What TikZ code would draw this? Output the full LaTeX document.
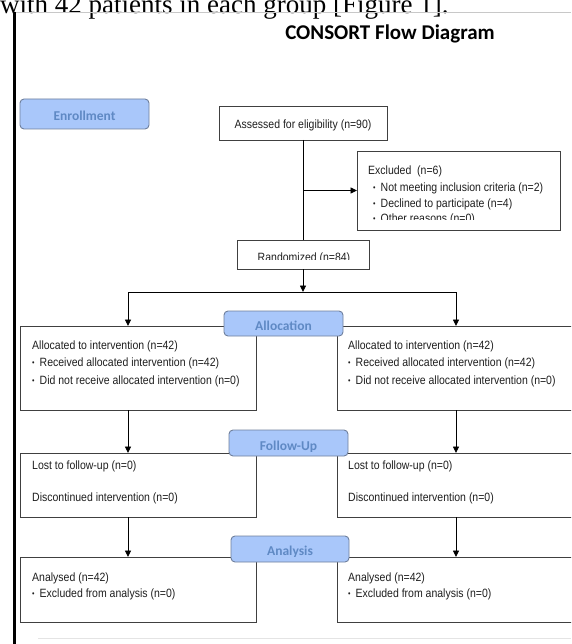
\documentclass[tikz,border=0pt]{standalone}
\usepackage{fontspec}
\setmainfont{Liberation Sans}
\newfontfamily\bodyf[FakeStretch=0.875]{Liberation Sans}
\newfontfamily\calib{Carlito}
\newfontfamily\timesf{Liberation Serif}
\usetikzlibrary{arrows.meta}
\definecolor{boxline}{HTML}{404040}
\definecolor{stagefill}{HTML}{A9C7FA}
\definecolor{stageline}{HTML}{6F7F9C}
\definecolor{stagetext}{HTML}{5F89C4}
\definecolor{rulegray}{HTML}{C8C8C8}
\definecolor{rulelight}{HTML}{E4E4E4}
\definecolor{txtcol}{HTML}{1E1E1E}
\newcommand\mybul{\makebox[7.5pt][l]{\fontsize{8}{9}\selectfont\raisebox{0.8pt}{•}}}
\begin{document}
\begin{tikzpicture}[x=1pt,y=-1pt,
 box/.style={draw=boxline, line width=0.9pt, anchor=north west, inner sep=0pt, outer sep=0pt},
 stage/.style={draw=stageline, fill=stagefill, line width=0.9pt, rounded corners=4pt, anchor=north west, inner sep=0pt, outer sep=0pt},
 stagetxt/.style={anchor=base, inner sep=0pt, text=stagetext, font=\calib\bfseries\fontsize{13.5}{15}\selectfont},
 txt/.style={anchor=base west, inner sep=0pt, text=txtcol, font=\bodyf\fontsize{12}{14}\selectfont},
 conn/.style={draw=black, line width=0.9pt},
 arr/.style={conn, -{Triangle[length=6.5pt,width=6pt]}},
]
\useasboundingbox (0,0) rectangle (571,644);
\clip (0,0) rectangle (571,644);

% page furniture
\node[anchor=base west, inner sep=0pt, font=\timesf\fontsize{27}{30}\selectfont] (topline) at (0,13.5) {with 42 patients in each group [Figure 1].};
\draw[rulegray, line width=0.8pt] (13,12) -- (571,12);
\draw[rulelight, line width=1pt] (38,638) -- (571,638);
\draw[black, line width=3pt] (14.5,12) -- (14.5,644);

\node[anchor=base, inner sep=0pt, font=\calib\bfseries\fontsize{21}{25}\selectfont] (title) at (390,40) {CONSORT Flow Diagram};

% boxes
\node[box, minimum width=168pt, minimum height=34pt] (assess) at (219,106) {};
\node[box, minimum width=203pt, minimum height=79pt] (excl) at (357,151) {};
\node[box, minimum width=132pt, minimum height=29pt] (rand) at (237,240) {};
\node[box, minimum width=236pt, minimum height=84pt] (allocL) at (20,326) {};
\node[box, minimum width=245pt, minimum height=84pt] (allocR) at (337,326) {};
\node[box, minimum width=236pt, minimum height=64pt] (fuL) at (20,453) {};
\node[box, minimum width=245pt, minimum height=64pt] (fuR) at (337,453) {};
\node[box, minimum width=236pt, minimum height=65pt] (anL) at (20,557) {};
\node[box, minimum width=245pt, minimum height=65pt] (anR) at (337,557) {};

% connectors
\draw[conn] (assess.south) -- (rand.north);
\coordinate (br) at (assess.south |- excl.west);
\draw[arr] (br) -- (excl.west);
\coordinate (split) at (303,292);
\coordinate (splitL) at (128,292);
\coordinate (splitR) at (456,292);
\draw[arr] (rand.south) -- (split);
\draw[conn] (splitL) -- (splitR);
\draw[arr] (splitL) -- (splitL |- allocL.north);
\draw[arr] (splitR) -- (splitR |- allocR.north);
\draw[arr] (splitL |- allocL.south) -- (splitL |- fuL.north);
\draw[arr] (splitR |- allocR.south) -- (splitR |- fuR.north);
\draw[arr] (splitL |- fuL.south) -- (splitL |- anL.north);
\draw[arr] (splitR |- fuR.south) -- (splitR |- anR.north);

% stage labels
\node[stage, minimum width=129pt, minimum height=30pt] (enroll) at (20,99) {};
\node[stage, minimum width=119pt, minimum height=25pt] (allocS) at (224,311) {};
\node[stage, minimum width=119pt, minimum height=26pt] (fuS) at (229,430) {};
\node[stage, minimum width=118pt, minimum height=26pt] (anS) at (231,536) {};

\node[stagetxt] (enrollT) at (84.5,120.5) {Enrollment};
\begin{scope}
\clip (224,311) rectangle (343,329.5);
\node[stagetxt] (allocST) at (283.5,330.5) {Allocation};
\end{scope}
\begin{scope}
\clip (229,430) rectangle (348,451.5);
\node[stagetxt] (fuST) at (288.5,450.5) {Follow-Up};
\end{scope}
\begin{scope}
\clip (231,536) rectangle (349,556);
\node[stagetxt] (anST) at (290,555.7) {Analysis};
\end{scope}

% texts
\node[txt, anchor=base] (assessT) at (303,128.3) {Assessed for eligibility (n=90)};
\node[txt] (exclT1) at (368,174.5) {Excluded\ \ (n=6)};
\node[txt] (exclT2) at (373,191.5) {\mybul Not meeting inclusion criteria (n=2)};
\node[txt] (exclT3) at (373,207.5) {\mybul Declined to participate (n=4)};
\begin{scope}
\clip (357,151) rectangle (560,219.5);
\node[txt] (exclT4) at (373,222.5) {\mybul Other reasons (n=0)};
\end{scope}
\begin{scope}
\clip (237,240) rectangle (369,259.3);
\node[txt, anchor=base] (randT) at (304,261.3) {Randomized (n=84)};
\end{scope}

\node[txt] (aL1) at (32,349.3) {Allocated to intervention (n=42)};
\node[txt] (aL2) at (32,366.3) {\mybul Received allocated intervention (n=42)};
\node[txt] (aL3) at (32,384.3) {\mybul Did not receive allocated intervention (n=0)};
\node[txt] (aR1) at (348,349.3) {Allocated to intervention (n=42)};
\node[txt] (aR2) at (348,366.3) {\mybul Received allocated intervention (n=42)};
\node[txt] (aR3) at (348,384.3) {\mybul Did not receive allocated intervention (n=0)};

\node[txt] (fL1) at (32,469.3) {Lost to follow-up (n=0)};
\node[txt] (fL2) at (32,501) {Discontinued intervention (n=0)};
\node[txt] (fR1) at (348,469.3) {Lost to follow-up (n=0)};
\node[txt] (fR2) at (348,501) {Discontinued intervention (n=0)};

\node[txt] (nL1) at (32,581) {Analysed (n=42)};
\node[txt] (nL2) at (32,597) {\mybul Excluded from analysis (n=0)};
\node[txt] (nR1) at (348,581) {Analysed (n=42)};
\node[txt] (nR2) at (348,597) {\mybul Excluded from analysis (n=0)};
\end{tikzpicture}
\end{document}
